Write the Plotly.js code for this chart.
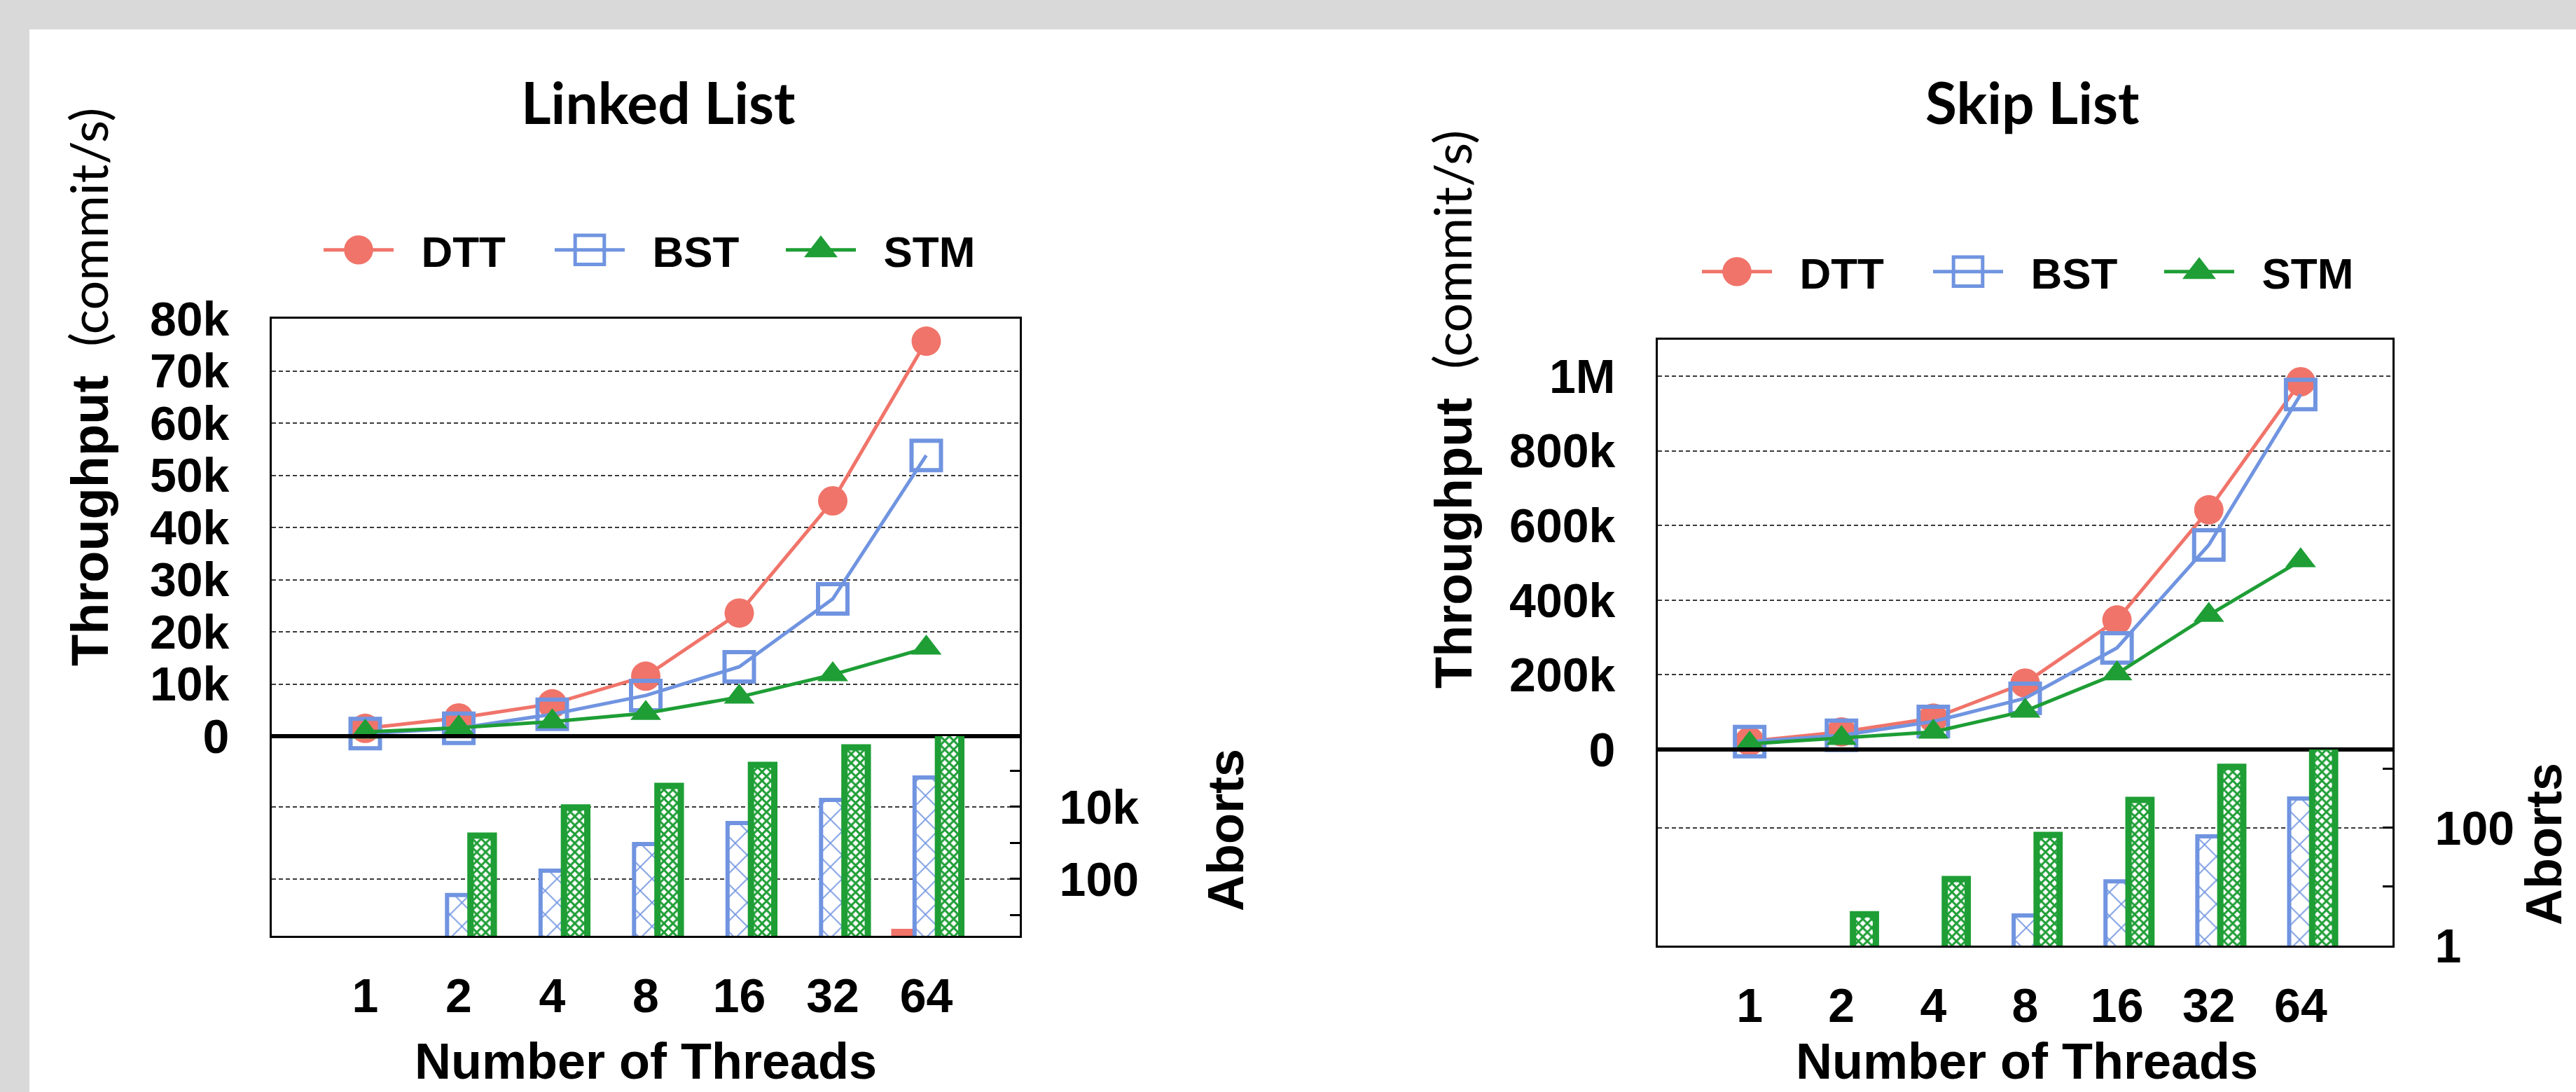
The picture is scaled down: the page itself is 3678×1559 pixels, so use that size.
<!DOCTYPE html>
<html>
<head>
<meta charset="utf-8">
<script src="https://cdn.plot.ly/plotly-3.0.1.min.js"></script>
<style>
html,body{margin:0;padding:0;background:#d9d9d9;}
#chart{width:3678px;height:1559px;}
</style>
</head>
<body>
<div id="chart"></div>
<script>
// ---------------- data ----------------
const threads = ['1', '2', '4', '8', '16', '32', '64'];
const seriesNames = ['DTT', 'BST', 'STM'];

// Linked List: throughput (commit/s)
const llDTT = [1500, 3500, 6200, 11500, 23600, 45100, 75700];
const llBST = [500, 1500, 4200, 7800, 13300, 26300, 53800];
const llSTM = [800, 1600, 2800, 4400, 7500, 11800, 16900];
// Linked List: aborts (log scale)
const llAbortDTT = [null, null, null, null, null, null, 4.2];
const llAbortBST = [null, 36, 171, 935, 3570, 15600, 65000];
const llAbortSTM = [null, 1600, 9600, 38000, 146000, 447000, 1200000];

// Skip List: throughput (commit/s)
const slDTT = [22000, 47000, 84000, 178000, 347000, 642000, 985000];
const slBST = [21000, 38000, 75000, 137000, 272000, 548000, 951000];
const slSTM = [15000, 30000, 47000, 103000, 203000, 360000, 506000];
// Skip List: aborts (log scale)
const slAbortDTT = [null, null, null, null, null, null, null];
const slAbortBST = [null, null, null, 3.25, 12.4, 72, 316];
const slAbortSTM = [null, 3.4, 13.5, 76, 300, 1090, 2340];

// tick labels
const llTickVals = [0, 10000, 20000, 30000, 40000, 50000, 60000, 70000, 80000];
const llTickText = ['0', '10k', '20k', '30k', '40k', '50k', '60k', '70k', '80k'];
const llAbortTickVals = [100, 10000];
const llAbortTickText = ['100', '10k'];
const llAbortMinor = [10, 1000, 100000];
const slTickVals = [0, 200000, 400000, 600000, 800000, 1000000];
const slTickText = ['0', '200k', '400k', '600k', '800k', '1M'];
const slAbortTickVals = [1, 100];
const slAbortTickText = ['1', '100'];
const slAbortMinor = [10, 1000];

// ---------------- style ----------------
const W = 3678, H = 1559;
const px = x => x / W;
const py = y => 1 - y / H;
const colors = { DTT: '#F0746A', BST: '#7094E0', STM: '#1E9E35' };
const ARIAL = 'Liberation Sans, Arial, Helvetica, sans-serif';
const tickFont = { family: ARIAL, size: 68, color: '#000', weight: 'bold' };
const grid = { showgrid: true, gridcolor: '#3a3a3a', gridwidth: 2, griddash: '6px,4px' };
const frame = { showline: true, linewidth: 3, linecolor: '#000', zeroline: false };
const keyGap = '\u00a0\u00a0'; // space between legend key and its label

function lineTraces(xa, ya, lg, vals) {
  return [
    { type: 'scatter', mode: 'lines+markers', name: keyGap + seriesNames[0], x: threads, y: vals[0],
      xaxis: xa, yaxis: ya, legend: lg, cliponaxis: false,
      line: { color: colors.DTT, width: 5 },
      marker: { symbol: 'circle', size: 42, color: colors.DTT } },
    { type: 'scatter', mode: 'lines+markers', name: keyGap + seriesNames[1], x: threads, y: vals[1],
      xaxis: xa, yaxis: ya, legend: lg, cliponaxis: false,
      line: { color: colors.BST, width: 5 },
      marker: { symbol: 'square-open', size: 42, color: colors.BST, line: { color: colors.BST, width: 6 } } },
    { type: 'scatter', mode: 'lines+markers', name: keyGap + seriesNames[2], x: threads, y: vals[2],
      xaxis: xa, yaxis: ya, legend: lg, cliponaxis: false,
      line: { color: colors.STM, width: 5 },
      marker: { symbol: 'triangle-up', size: 38, color: colors.STM } }
  ];
}

function barTraces(xa, ya, vals) {
  return [
    { type: 'bar', name: seriesNames[0], x: threads, y: vals[0], xaxis: xa, yaxis: ya, showlegend: false,
      marker: { color: colors.DTT, line: { width: 0 } } },
    { type: 'bar', name: seriesNames[1], x: threads, y: vals[1], xaxis: xa, yaxis: ya, showlegend: false,
      marker: { color: '#ffffff', line: { color: colors.BST, width: 6 },
        pattern: { shape: 'x', fgcolor: colors.BST, bgcolor: '#ffffff', size: 24, solidity: 0.14 } } },
    { type: 'bar', name: seriesNames[2], x: threads, y: vals[2], xaxis: xa, yaxis: ya, showlegend: false,
      marker: { color: '#ffffff', line: { color: colors.STM, width: 9 },
        pattern: { shape: 'x', fgcolor: colors.STM, bgcolor: '#ffffff', size: 9, solidity: 0.55 } } }
  ];
}

const data = [].concat(
  barTraces('x', 'y2', [llAbortDTT, llAbortBST, llAbortSTM]),
  barTraces('x2', 'y4', [slAbortDTT, slAbortBST, slAbortSTM]),
  lineTraces('x', 'y', 'legend', [llDTT, llBST, llSTM]),
  lineTraces('x2', 'y3', 'legend2', [slDTT, slBST, slSTM])
);

const legendFont = { family: ARIAL, size: 62, color: '#000', weight: 'bold' };
const titleFont = { family: 'Lato, Open Sans, sans-serif', size: 82, color: '#000', weight: 'bold' };
const axTitleFont = { family: ARIAL, size: 72, color: '#000', weight: 'bold' };
const yTitleText = '<b>Throughput</b>\u00a0\u00a0<span style="font-family:Lato;font-weight:400">(commit/s)</span>';

function ann(text, x, y, font, angle, xanchor, yanchor) {
  return { text: text, x: px(x), y: py(y), xref: 'paper', yref: 'paper', showarrow: false,
    xanchor: xanchor || 'center', yanchor: yanchor || 'middle', textangle: angle || 0, font: font };
}

const legendBase = { orientation: 'h', xanchor: 'center', yanchor: 'middle', font: legendFont,
  bgcolor: 'rgba(0,0,0,0)', itemwidth: 100, entrywidth: 215, entrywidthmode: 'pixels', traceorder: 'normal' };

const layout = {
  width: W, height: H,
  margin: { l: 0, r: 0, t: 0, b: 0 },
  paper_bgcolor: '#d9d9d9',
  plot_bgcolor: 'rgba(0,0,0,0)',
  barmode: 'group', bargap: 0.25, bargroupgap: 0,
  showlegend: true,
  xaxis: Object.assign({ domain: [px(388), px(1456)], anchor: 'y2', type: 'category', range: [-1, 7],
    mirror: 'all', ticks: '', showgrid: false, tickfont: tickFont, ticklabelstandoff: 24 }, frame),
  yaxis: Object.assign({ domain: [py(1051), py(455)], anchor: 'x', range: [0, 80000],
    tickmode: 'array', tickvals: llTickVals, ticktext: llTickText, mirror: true, ticks: '',
    tickfont: tickFont, ticklabelstandoff: 44 }, frame, grid),
  yaxis2: Object.assign({ domain: [py(1336), py(1051)], anchor: 'x', type: 'log', range: [0.427, 5.96],
    side: 'right', tickmode: 'array', tickvals: llAbortTickVals, ticktext: llAbortTickText,
    mirror: true, ticks: 'inside', ticklen: 14, tickwidth: 3, tickcolor: '#000',
    minor: { tickmode: 'array', tickvals: llAbortMinor, ticks: 'inside', ticklen: 14, tickwidth: 3, tickcolor: '#000', showgrid: false },
    tickfont: tickFont, ticklabelstandoff: 40 }, frame, grid),
  xaxis2: Object.assign({ domain: [px(2367), px(3416)], anchor: 'y4', type: 'category', range: [-1, 7],
    mirror: 'all', ticks: '', showgrid: false, tickfont: tickFont, ticklabelstandoff: 24 }, frame),
  yaxis3: Object.assign({ domain: [py(1070), py(485)], anchor: 'x2', range: [0, 1097600],
    tickmode: 'array', tickvals: slTickVals, ticktext: slTickText, mirror: true, ticks: '',
    tickfont: tickFont, ticklabelstandoff: 44 }, frame, grid),
  yaxis4: Object.assign({ domain: [py(1350), py(1070)], anchor: 'x2', type: 'log', range: [0, 3.333],
    side: 'right', tickmode: 'array', tickvals: slAbortTickVals, ticktext: slAbortTickText,
    mirror: true, ticks: 'inside', ticklen: 14, tickwidth: 3, tickcolor: '#000',
    minor: { tickmode: 'array', tickvals: slAbortMinor, ticks: 'inside', ticklen: 14, tickwidth: 3, tickcolor: '#000', showgrid: false },
    tickfont: tickFont, ticklabelstandoff: 44 }, frame, grid),
  legend: Object.assign({ x: px(952), y: py(357) }, legendBase),
  legend2: Object.assign({ x: px(2920), y: py(388) }, legendBase),
  shapes: [
    { type: 'rect', xref: 'paper', yref: 'paper', x0: px(42), x1: 1, y0: 0, y1: py(42),
      fillcolor: '#ffffff', line: { width: 0 }, layer: 'below' }
  ],
  annotations: [
    ann('Linked List', 940, 145, titleFont),
    ann('Skip List', 2902, 145, titleFont),
    ann(yTitleText, 125, 553, { family: ARIAL, size: 74, color: '#000' }, -90),
    ann(yTitleText, 2072, 585, { family: ARIAL, size: 74, color: '#000' }, -90),
    ann('Number of Threads', 922, 1557, axTitleFont, 0, 'center', 'bottom'),
    ann('Number of Threads', 2894, 1557, axTitleFont, 0, 'center', 'bottom'),
    ann('Aborts', 1750, 1185, axTitleFont, -90),
    ann('Aborts', 3674, 1205, axTitleFont, -90, 'right')
  ]
};

// enlarge the legend key symbols to the reference key size
function tweakLegends() {
  const gd = document.getElementById('chart');
  gd.querySelectorAll('.legendpoints path.scatterpts').forEach(function (p) {
    const t = p.getAttribute('transform') || '';
    if (t.indexOf('scale(2.6)') < 0) {
      p.setAttribute('transform', t + ' scale(2.6)');
      p.style.vectorEffect = 'non-scaling-stroke';
    }
  });
}

Plotly.newPlot('chart', data, layout, { staticPlot: true, displayModeBar: false }).then(function () {
  tweakLegends();
  requestAnimationFrame(tweakLegends);
  setTimeout(tweakLegends, 100);
  setTimeout(tweakLegends, 400);
});
</script>
</body>
</html>
